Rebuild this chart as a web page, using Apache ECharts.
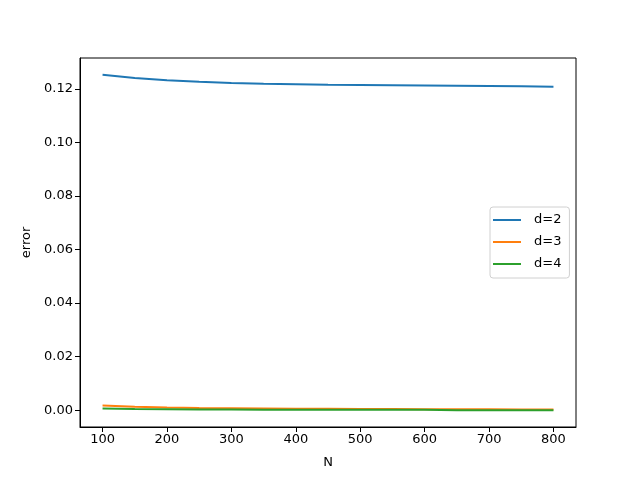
<!DOCTYPE html>
<html>
<head>
<meta charset="utf-8">
<script src="https://cdn.jsdelivr.net/npm/echarts@6/dist/echarts.min.js"></script>
<style>
  html, body { margin: 0; padding: 0; background: #fff; }
  #chart { width: 640px; height: 480px; }
</style>
</head>
<body>
<div id="chart"></div>
<script>
  // values
  var nValues = [100, 150, 200, 250, 300, 350, 400, 450, 500, 550, 600, 650, 700, 750, 800];
  var errD2 = [0.1253, 0.1241, 0.1233, 0.1227, 0.1223, 0.1220, 0.1218, 0.1216, 0.1215, 0.1214, 0.1213, 0.1212, 0.1211, 0.1210, 0.1209];
  var errD3 = [0.0017, 0.0013, 0.0010, 0.0008, 0.0007, 0.0006, 0.0005, 0.0005, 0.0004, 0.0004, 0.0003, 0.0003, 0.0003, 0.0002, 0.0002];
  var errD4 = [0.0006, 0.0004, 0.0003, 0.0002, 0.0002, 0.0001, 0.0001, 0.0001, 0.0001, 0.0001, 0.0001, 0.0000, 0.0000, 0.0000, 0.0000];
  var xTicks = [100, 200, 300, 400, 500, 600, 700, 800];
  var yTicks = [0, 0.02, 0.04, 0.06, 0.08, 0.10, 0.12];

  function pairs(ys) {
    return nValues.map(function (n, i) { return [n, ys[i]]; });
  }

  var chart = echarts.init(document.getElementById('chart'));
  var font = 'DejaVu Sans';

  chart.setOption({
    animation: false,
    color: ['#1f77b4', '#ff7f0e', '#2ca02c'],
    grid: {
      left: 80, right: 64, top: 58, bottom: 53,
      show: true, borderColor: '#000', borderWidth: 1, backgroundColor: '#fff'
    },
    legend: {
      orient: 'vertical',
      left: 490, top: 207,
      padding: [6, 8, 7, 3],
      itemGap: 8,
      itemWidth: 28, itemHeight: 2,
      icon: 'rect',
      borderColor: '#d0d0d0', borderWidth: 1, borderRadius: 3,
      backgroundColor: 'rgba(255,255,255,0.8)',
      textStyle: { fontFamily: font, fontSize: 13, color: '#000', lineHeight: 14, padding: [0, 0, 0, 8] },
      data: ['d=2', 'd=3', 'd=4']
    },
    xAxis: {
      type: 'value',
      min: 65, max: 835,
      name: 'N', nameLocation: 'middle', nameGap: 29,
      nameTextStyle: { fontFamily: font, fontSize: 13, color: '#000' },
      splitLine: { show: false },
      axisLine: { onZero: false, lineStyle: { color: '#000' } },
      axisTick: { customValues: xTicks, length: 5, lineStyle: { color: '#000' } },
      axisLabel: { customValues: xTicks, fontFamily: font, fontSize: 13, color: '#000', margin: 6 }
    },
    yAxis: {
      type: 'value',
      min: -0.0063, max: 0.1316,
      name: 'error', nameLocation: 'middle', nameGap: 46,
      nameTextStyle: { fontFamily: font, fontSize: 13, color: '#000' },
      splitLine: { show: false },
      axisLine: { show: true, onZero: false, lineStyle: { color: '#000' } },
      axisTick: { show: true, customValues: yTicks, length: 5, lineStyle: { color: '#000' } },
      axisLabel: {
        customValues: yTicks, fontFamily: font, fontSize: 13, color: '#000', margin: 7,
        formatter: function (v) { return v.toFixed(2); }
      }
    },
    series: [
      { name: 'd=2', type: 'line', data: pairs(errD2), showSymbol: false, lineStyle: { width: 2 } },
      { name: 'd=3', type: 'line', data: pairs(errD3), showSymbol: false, lineStyle: { width: 2 } },
      { name: 'd=4', type: 'line', data: pairs(errD4), showSymbol: false, lineStyle: { width: 2 } }
    ]
  });
</script>
</body>
</html>
